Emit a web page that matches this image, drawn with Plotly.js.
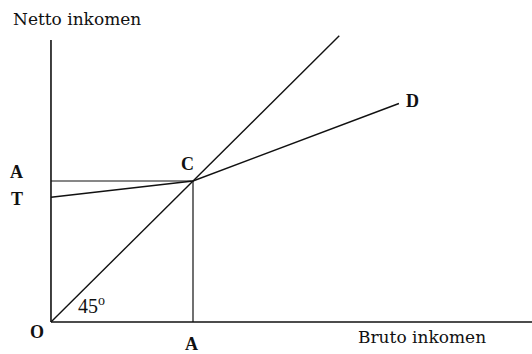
<!DOCTYPE html>
<html>
<head>
<meta charset="utf-8">
<script src="https://cdn.plot.ly/plotly-3.0.1.min.js"></script>
<style>html,body{margin:0;padding:0;background:#fff;}#chart{width:532px;height:354px;}</style>
</head>
<body>
<div id="chart"></div>
<script>
// Data (model units: O = origin, A = gross income where net = gross)
const grossA = 100;          // A on the gross-income axis
const netA = 100;            // A on the net-income axis (point C)
const taxFreeT = 88.5;       // T: net income at zero gross income
const pointD = [245, 155];   // end of the net-income line (D)
const line45End = 203;       // end of the 45-degree line
const yAxisTop = 200;        // top of the net-income axis
const xAxisEnd = 345;        // right end of gross-income axis
const xLabel = "Bruto inkomen";
const yLabel = "Netto inkomen";
const pointLabels = ["O", "A", "T", "C", "D", "A"];

const black = "#111";
const lw = 1.4;
const serif = "Liberation Serif, Times New Roman, serif";
const wideSerif = "DejaVu Serif, serif";

const traces = [
  // axes
  {x: [0, 0], y: [yAxisTop, 0], mode: "lines", line: {color: black, width: 1.6}},
  {x: [0, xAxisEnd], y: [0, 0], mode: "lines", line: {color: black, width: 1.6}},
  // 45-degree line
  {x: [0, line45End], y: [0, line45End], mode: "lines", line: {color: black, width: lw}},
  // net-income line T - C - D
  {x: [0, grossA, pointD[0]], y: [taxFreeT, netA, pointD[1]], mode: "lines", line: {color: black, width: lw}},
  // guide lines A-C and C-A
  {x: [0, grossA], y: [netA, netA], mode: "lines", line: {color: black, width: 1.2}},
  {x: [grossA, grossA], y: [netA, 0], mode: "lines", line: {color: black, width: 1.2}}
];

const bold = {family: serif, size: 18, color: black};
const annotations = [
  {text: yLabel, x: 0, y: yAxisTop, xref: "x", yref: "y", xshift: -40, yshift: 21, xanchor: "left", yanchor: "middle", showarrow: false, font: {family: wideSerif, size: 17, color: black}},
  {text: xLabel, x: 215, y: 0, xref: "x", yref: "y", yshift: -15, xanchor: "left", yanchor: "middle", showarrow: false, font: {family: wideSerif, size: 17, color: black}},
  {text: "<b>" + pointLabels[0] + "</b>", x: 0, y: 0, xref: "x", yref: "y", xshift: -14, yshift: -10, showarrow: false, font: bold},
  {text: "<b>" + pointLabels[1] + "</b>", x: 0, y: netA, xref: "x", yref: "y", xshift: -34, yshift: 9, showarrow: false, font: bold},
  {text: "<b>" + pointLabels[2] + "</b>", x: 0, y: taxFreeT, xref: "x", yref: "y", xshift: -34, yshift: -2, showarrow: false, font: bold},
  {text: "<b>" + pointLabels[3] + "</b>", x: grossA, y: netA, xref: "x", yref: "y", xshift: -6, yshift: 17, showarrow: false, font: bold},
  {text: "<b>" + pointLabels[4] + "</b>", x: pointD[0], y: pointD[1], xref: "x", yref: "y", xshift: 14, yshift: 2, showarrow: false, font: bold},
  {text: "<b>" + pointLabels[5] + "</b>", x: grossA, y: 0, xref: "x", yref: "y", xshift: -2, yshift: -22, showarrow: false, font: bold},
  {text: "45<sup>o</sup>", x: 0, y: 0, xref: "x", yref: "y", xshift: 41, yshift: 17, showarrow: false, font: {family: serif, size: 20, color: black}}
];

const layout = {
  width: 532, height: 354,
  margin: {l: 0, r: 0, t: 0, b: 0},
  paper_bgcolor: "#fff", plot_bgcolor: "#fff",
  showlegend: false,
  xaxis: {range: [-35.9, 338.7], visible: false, fixedrange: true},
  yaxis: {range: [-22.7, 228.4], visible: false, fixedrange: true},
  annotations: annotations
};

Plotly.newPlot("chart", traces, layout, {displayModeBar: false, staticPlot: true});
</script>
</body>
</html>
